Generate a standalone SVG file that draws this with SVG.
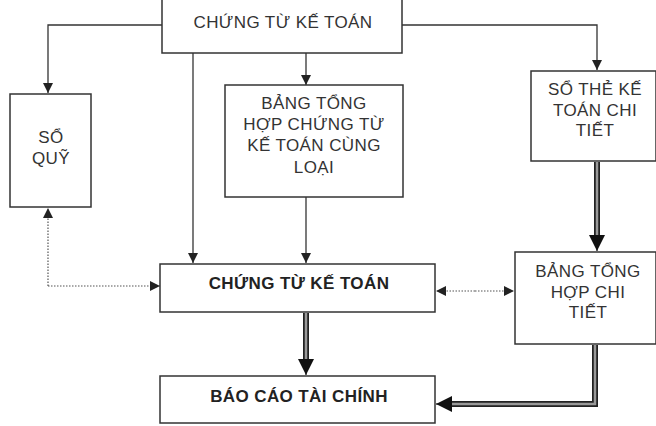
<svg xmlns="http://www.w3.org/2000/svg" width="656" height="426" viewBox="0 0 656 426">
<style>
.box{fill:#fff;stroke:#333;stroke-width:1.5}
.t{font-family:"Liberation Sans",Arial,sans-serif;font-size:17px;letter-spacing:0.4px;fill:#333;text-anchor:middle}
.b{font-weight:bold;fill:#222}
.ln{fill:none;stroke:#333;stroke-width:1.3}
.dot{fill:none;stroke:#555;stroke-width:1.2;stroke-dasharray:1.5 1.5}
.dbo{fill:none;stroke:#222;stroke-width:6}
.dbi{fill:none;stroke:#999;stroke-width:2.5}
</style>
<defs>
<marker id="a" viewBox="0 0 10 10" refX="10" refY="5" markerWidth="10" markerHeight="10" markerUnits="userSpaceOnUse" orient="auto"><path d="M0,0L10,5L0,10z" fill="#222"/></marker>
<marker id="ab" viewBox="0 0 10 10" refX="10" refY="5" markerWidth="16" markerHeight="17" markerUnits="userSpaceOnUse" orient="auto"><path d="M0,0L10,5L0,10z" fill="#111"/></marker>
</defs>
<rect width="656" height="426" fill="#fff"/>
<g id="connectors">
<path class="ln" d="M162,25H48V93" marker-end="url(#a)"/>
<path class="ln" d="M402,25H597V70" marker-end="url(#a)"/>
<path class="ln" d="M193,53V263" marker-end="url(#a)"/>
<path class="ln" d="M306,53V85" marker-end="url(#a)"/>
<path class="ln" d="M306,197V263" marker-end="url(#a)"/>
<path class="dot" d="M48,286H160" marker-end="url(#a)"/>
<path class="dot" d="M48,286V208" marker-end="url(#a)"/>
<path class="dot" d="M475,291H514" marker-end="url(#a)"/>
<path class="dot" d="M475,291H436" marker-end="url(#a)"/>
<path class="dbo" d="M597,162V238"/><path class="dbi" d="M597,162V238"/>
<path class="ln" d="M597,236V251" marker-end="url(#ab)" stroke-width="0"/>
<path class="dbo" d="M306,313V362"/><path class="dbi" d="M306,313V362"/>
<path class="ln" d="M306,360V375" marker-end="url(#ab)" stroke-width="0"/>
<path class="dbo" d="M595,345V404H449"/><path class="dbi" d="M595,345V404H449"/>
<path class="ln" d="M451,404H436" marker-end="url(#ab)" stroke-width="0"/>
</g>
<g id="top"><rect class="box" x="162" y="-5" width="240" height="58"/><text class="t" x="283" y="28" font-size="18.5">CHỨNG TỪ KẾ TOÁN</text></g>
<g id="soquy"><rect class="box" x="10" y="94" width="81" height="113"/><text class="t" x="51" y="143">SỔ</text><text class="t" x="51" y="164">QUỸ</text></g>
<g id="bangthcungloai"><rect class="box" x="225" y="85" width="178" height="112"/><text class="t" x="314" y="109">BẢNG TỔNG</text><text class="t" x="314" y="130">HỢP CHỨNG TỪ</text><text class="t" x="314" y="151">KẾ TOÁN CÙNG</text><text class="t" x="314" y="173">LOẠI</text></g>
<g id="sothe"><rect class="box" x="531" y="71" width="125" height="90"/><text class="t" x="595" y="95">SỔ THẺ KẾ</text><text class="t" x="595" y="116">TOÁN CHI</text><text class="t" x="595" y="136">TIẾT</text></g>
<g id="chungtu"><rect class="box" x="160" y="264" width="275" height="48"/><text class="t b" x="299" y="289" font-size="18">CHỨNG TỪ KẾ TOÁN</text></g>
<g id="bangthchitiet"><rect class="box" x="515" y="252" width="141" height="92"/><text class="t" x="588" y="277">BẢNG TỔNG</text><text class="t" x="588" y="298">HỢP CHI</text><text class="t" x="588" y="318">TIẾT</text></g>
<g id="baocao"><rect class="box" x="160" y="376" width="275" height="47"/><text class="t b" x="299" y="402" font-size="18">BÁO CÁO TÀI CHÍNH</text></g>
</svg>
